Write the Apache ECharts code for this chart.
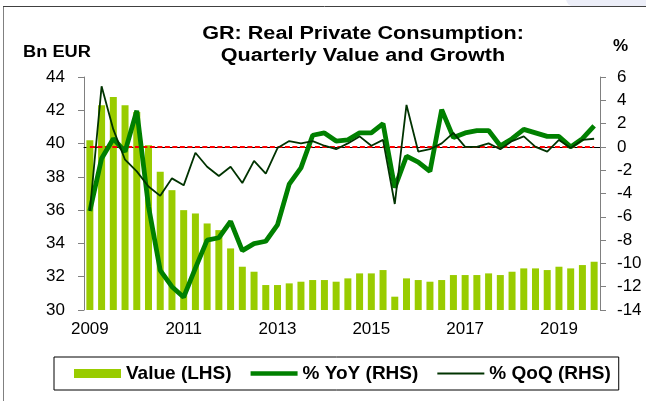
<!DOCTYPE html>
<html>
<head>
<meta charset="utf-8">
<script src="https://cdn.jsdelivr.net/npm/echarts@6/dist/echarts.min.js"></script>
<style>
  html, body { margin: 0; padding: 0; background: #fff; }
  #chart { width: 646px; height: 401px; }
</style>
</head>
<body>
<div id="chart"></div>
<script>
  // quarters 2009Q1 .. 2019Q4
  var years = ['2009','2010','2011','2012','2013','2014','2015','2016','2017','2018','2019'];
  var quarters = [];
  years.forEach(function (y) {
    ['Q1','Q2','Q3','Q4'].forEach(function (q) { quarters.push(y + q); });
  });

  // Bn EUR, left axis
  var value = [40.2, 42.3, 42.8, 42.3, 41.9, 39.9, 38.3, 37.2, 36.0, 35.8, 35.2, 34.8,
               33.7, 32.6, 32.3, 31.5, 31.5, 31.6, 31.7, 31.8, 31.8, 31.7, 31.9, 32.2,
               32.2, 32.4, 30.8, 31.9, 31.8, 31.7, 31.8, 32.1, 32.1, 32.1, 32.2, 32.1,
               32.3, 32.5, 32.5, 32.4, 32.6, 32.5, 32.7, 32.9];
  // % YoY, right axis
  var yoy = [-5.5, -1.0, 0.7, -0.4, 3.1, -5.1, -10.6, -12.0, -12.9, -10.4, -8.0, -7.8,
             -6.4, -8.9, -8.3, -8.1, -6.7, -3.2, -1.8, 1.0, 1.2, 0.5, 0.6, 1.2,
             1.2, 2.0, -3.5, -0.8, -1.3, -2.1, 3.2, 0.8, 1.2, 1.4, 1.4, 0.1,
             0.7, 1.5, 1.2, 0.9, 0.9, 0.0, 0.7, 1.8];
  // % QoQ, right axis
  var qoq = [-5.5, 5.2, 1.5, -1.1, -2.1, -3.4, -4.2, -2.7, -3.3, -0.5, -1.7, -2.5,
             -1.7, -3.1, -1.2, -2.3, -0.1, 0.5, 0.3, 0.5, 0.1, -0.2, 0.3, 0.9,
             0.1, 0.6, -4.9, 3.6, -0.4, -0.2, 0.3, 1.2, 0.0, 0.0, 0.3, -0.2,
             0.5, 0.9, 0.0, -0.4, 0.6, -0.1, 0.6, 0.7];

  var font = "'Liberation Sans', Arial, sans-serif";
  var chart = echarts.init(document.getElementById('chart'));

  chart.setOption({
    animation: false,
    grid: { left: 84, right: 46, top: 77, bottom: 91 },
    graphic: [
      { type: 'rect', shape: { x: 566, y: -10, width: 100, height: 16.5, r: 8 }, style: { fill: '#eceef8' } },
      { type: 'line', shape: { x1: 3.5, y1: 6.5, x2: 3.5, y2: 401 }, style: { stroke: '#808080', lineWidth: 1 } },
      { type: 'line', shape: { x1: 3, y1: 6.5, x2: 646, y2: 6.5 }, style: { stroke: '#404040', lineWidth: 1 } },
      { type: 'text', x: 363, y: 23, scaleX: 1.2, style: { text: 'GR: Real Private Consumption:\nQuarterly Value and Growth',
          font: 'bold 18px ' + font, fill: '#000', align: 'center', verticalAlign: 'top', lineHeight: 22 } },
      { type: 'text', x: 23, y: 45, scaleX: 1.14, style: { text: 'Bn EUR', font: 'bold 16px ' + font, fill: '#000', verticalAlign: 'top' } },
      { type: 'text', x: 613, y: 38, style: { text: '%', font: 'bold 17px ' + font, fill: '#000', verticalAlign: 'top' } }
    ],
    legend: {
      left: 54, top: 357,
      padding: [7, 8, 7, 20],
      borderColor: '#000', borderWidth: 1,
      itemGap: 19, itemWidth: 47, itemHeight: 9,
      data: [
        { name: 'Value (LHS)', icon: 'rect' },
        { name: '% YoY (RHS)', icon: 'path://M0,0H47V4.5H0Z', itemStyle: { color: '#008000' } },
        { name: '% QoQ (RHS)', icon: 'path://M0,0H47V2H0Z', itemStyle: { color: '#003300' } }
      ],
      textStyle: { fontFamily: font, fontSize: 19, fontWeight: 'bold', color: '#000' }
    },
    xAxis: {
      type: 'category',
      data: quarters,
      boundaryGap: true,
      axisLine: { lineStyle: { color: '#000', width: 1 } },
      axisTick: { interval: 3, length: 6, lineStyle: { color: '#000' } },
      axisLabel: {
        interval: function (i) { return i % 8 === 0; },
        formatter: function (v) { return v.slice(0, 4); },
        fontFamily: font, fontSize: 17, color: '#000', margin: 11
      },
      splitLine: { show: false }
    },
    yAxis: [{
      type: 'value', min: 30, max: 44, interval: 2,
      axisLine: { show: true, lineStyle: { color: '#808080' } },
      axisTick: { show: true, length: 6, lineStyle: { color: '#808080' } },
      axisLabel: { fontFamily: font, fontSize: 17, color: '#000', margin: 19 },
      splitLine: { show: false }
    }, {
      type: 'value', min: -14, max: 6, interval: 2,
      axisLine: { show: true, lineStyle: { color: '#808080' } },
      axisTick: { show: true, length: 6, lineStyle: { color: '#808080' } },
      axisLabel: { fontFamily: font, fontSize: 17, color: '#000', margin: 17 },
      splitLine: { show: false }
    }],
    series: [{
      name: 'Value (LHS)',
      type: 'bar',
      data: value,
      barWidth: 7,
      z: 1,
      itemStyle: { color: '#99cc00' }
    }, {
      name: '% YoY (RHS)',
      type: 'line',
      yAxisIndex: 1,
      data: yoy,
      symbol: 'none',
      z: 3,
      lineStyle: { color: '#008000', width: 4.8 },
      itemStyle: { color: '#008000' },
      markLine: {
        z: 2,
        silent: true,
        symbol: 'none',
        label: { show: false },
        lineStyle: { color: '#ff0000', type: [5, 2.5], width: 2.2 },
        data: [[{ coord: [quarters[0], 0] }, { coord: [quarters[quarters.length - 1], 0] }]]
      }
    }, {
      name: '% QoQ (RHS)',
      type: 'line',
      yAxisIndex: 1,
      data: qoq,
      symbol: 'none',
      z: 4,
      lineStyle: { color: '#003300', width: 1.8 },
      itemStyle: { color: '#003300' }
    }]
  });
</script>
</body>
</html>
